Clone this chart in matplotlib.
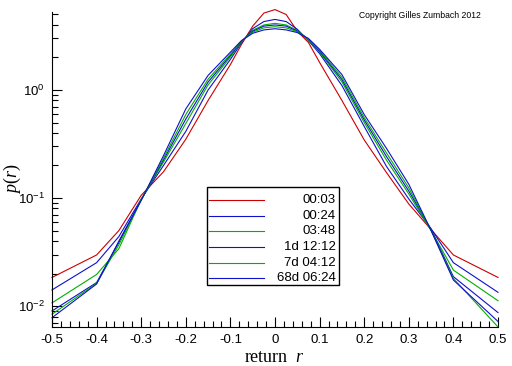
import numpy as np
import matplotlib.pyplot as plt
from matplotlib.ticker import MultipleLocator, LogLocator, NullFormatter, FuncFormatter
from matplotlib.patches import Rectangle

plt.rcParams['font.family'] = 'Liberation Sans'
plt.rcParams['mathtext.fontset'] = 'custom'
plt.rcParams['mathtext.rm'] = 'Liberation Serif'
plt.rcParams['mathtext.it'] = 'Liberation Serif:italic'

# return grid
r = [-0.5, -0.4, -0.35, -0.3, -0.25, -0.2, -0.15, -0.1, -0.075, -0.05, -0.025, 0.0,
     0.025, 0.05, 0.075, 0.1, 0.15, 0.2, 0.25, 0.3, 0.35, 0.4, 0.5]

# p(r) for each time horizon
p_0003 = [0.0184, 0.0297, 0.050, 0.106, 0.175, 0.35, 0.80, 1.72, 2.65, 3.9, 5.15, 5.55,
          5.0, 3.5, 2.75, 1.80, 0.80, 0.345, 0.172, 0.088, 0.051, 0.0297, 0.0184]
p_0024 = [0.0141, 0.0252, 0.044, 0.098, 0.20, 0.414, 1.0, 1.92, 2.74, 3.7, 4.3, 4.5,
          4.3, 3.65, 2.86, 2.17, 1.1, 0.46, 0.196, 0.098, 0.052, 0.0252, 0.0134]
p_0348 = [0.0107, 0.0196, 0.034, 0.097, 0.215, 0.49, 1.115, 2.02, 2.79, 3.57, 4.0, 4.14,
          4.0, 3.56, 2.90, 2.24, 1.19, 0.50, 0.224, 0.109, 0.050, 0.0215, 0.0112]
p_1d = [0.0090, 0.0165, 0.039, 0.096, 0.225, 0.538, 1.186, 2.09, 2.81, 3.50, 3.90, 4.0,
        3.90, 3.51, 2.94, 2.28, 1.25, 0.529, 0.242, 0.116, 0.051, 0.0187, 0.0087]
p_7d = [0.0084, 0.0162, 0.037, 0.096, 0.234, 0.593, 1.26, 2.15, 2.84, 3.43, 3.76, 3.85,
        3.76, 3.46, 2.96, 2.33, 1.31, 0.556, 0.261, 0.124, 0.050, 0.0180, 0.0064]
p_68d = [0.0078, 0.0160, 0.040, 0.095, 0.247, 0.668, 1.365, 2.24, 2.87, 3.35, 3.6, 3.69,
         3.6, 3.4, 3.0, 2.38, 1.39, 0.593, 0.288, 0.134, 0.050, 0.0174, 0.0072]

series = [p_0003, p_0024, p_0348, p_1d, p_7d, p_68d]
labels = ["00:03", "00:24", "03:48", "1d 12:12", "7d 04:12", "68d 06:24"]
colors = ["#cc0000", "#1010cc", "#00b000", "#1010cc", "#00b000", "#1010cc"]

fig = plt.figure(figsize=(5.12, 3.66), dpi=100)
ax = fig.add_axes([52 / 512, 1 - 327 / 366, 446 / 512, 315 / 366])

for p, c in zip(series, colors):
    ax.plot(r, p, color=c, lw=0.8, clip_on=False)

ax.set_yscale("log")
ax.set_xlim(-0.5, 0.5)
ax.set_ylim(10 ** -2.194, 10 ** 0.722)

ax.spines["top"].set_visible(False)
ax.spines["right"].set_visible(False)
ax.xaxis.set_major_locator(MultipleLocator(0.1))
ax.xaxis.set_minor_locator(MultipleLocator(0.02))
ax.xaxis.set_major_formatter(FuncFormatter(lambda v, pos: "0" if abs(v) < 1e-9 else f"{v:.1f}"))
ax.yaxis.set_major_locator(LogLocator(base=10, numticks=10))
ax.yaxis.set_minor_locator(LogLocator(base=10, subs=np.arange(2, 10), numticks=10))
ax.yaxis.set_minor_formatter(NullFormatter())
ax.yaxis.set_major_formatter(FuncFormatter(lambda v, pos: r"$\mathregular{10^{%d}}$" % round(np.log10(v))))
ax.tick_params(which="both", direction="in", top=False, right=False, labelsize=9.5, width=0.8)
ax.tick_params(which="major", length=7, pad=5)
ax.tick_params(which="minor", length=4)

ax.set_xlabel("return  $r$", family="Liberation Serif", fontsize=13, labelpad=2)
ax.set_ylabel("$p(r)$", fontsize=13)
ax.yaxis.set_label_coords(-0.066, 0.47)

# legend box drawn by hand to get right-aligned labels
ax.add_patch(Rectangle((0.347, 0.132), 0.297, 0.312, transform=ax.transAxes,
                       facecolor="white", edgecolor="black", lw=1, zorder=5))
row_y = np.linspace(0.402, 0.155, len(labels))
for y, c, lab in zip(row_y, colors, labels):
    ax.plot([0.352, 0.475], [y, y], transform=ax.transAxes, color=c, lw=0.8, zorder=6)
    ax.text(0.637, y, lab, transform=ax.transAxes, ha="right", va="center", fontsize=9.5, zorder=6)

fig.text(359 / 512, 1 - 15 / 366, "Copyright Gilles Zumbach 2012", fontsize=6.2, ha="left", va="center")

fig.savefig("out.png", dpi=100)
